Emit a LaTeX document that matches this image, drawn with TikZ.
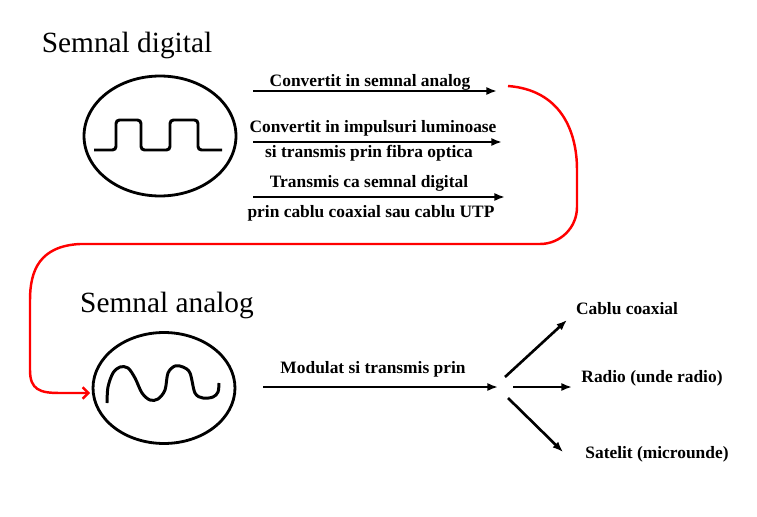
\documentclass[tikz,border=0pt]{standalone}
\usepackage{fontspec}
\setmainfont{Liberation Serif}
\usetikzlibrary{
    arrows,
    arrows.meta,
    positioning,
    shapes.geometric,
}

\begin{document}
\begin{tikzpicture}[
    x=0.02cm, y=-0.02cm,
    signal/.style={draw, ellipse, line width=1.6pt, inner sep=0pt},
    title/.style={font=\fontsize{16.7}{20}\selectfont},
    lbl/.style={font=\fontsize{9.9}{12}\selectfont\bfseries, align=center, inner sep=0pt},
    flow/.style={-{Latex[length=6pt,width=4.6pt]}, line width=1.5pt},
    wave/.style={line width=1.7pt, rounded corners=2pt},
    jump/.style={-{Straight Barb[length=3.2pt,width=6.5pt]}, red, line width=1.4pt}
]
\useasboundingbox (0,0) rectangle (757,517);

\node[title] (digitalTitle) at (127,45) {Semnal digital};
\node[signal, minimum width=3.04cm, minimum height=2.4cm] (digital) at (160,136) {};
\draw[wave] (94,150) -- (116,150) -- (116,120) -- (141,120) -- (141,150) -- (170,150)
    -- (170,120) -- (198,120) -- (198,150) -- (222,150);

\coordinate (a1s) at (253,91);  \coordinate (a1e) at (497,91);
\coordinate (a2s) at (253,142); \coordinate (a2e) at (502,142);
\coordinate (a3s) at (253,197); \coordinate (a3e) at (505,197);
\draw[flow] (a1s) -- (a1e);
\draw[flow] (a2s) -- (a2e);
\draw[flow] (a3s) -- (a3e);

\node[lbl] (analogText) at (370,82) {Convertit in semnal analog};
\node[lbl] (lightText) at (373,128) {Convertit in impulsuri luminoase};
\node[lbl] (fiberText) at (369,153) {si transmis prin fibra optica};
\node[lbl] (digitalText) at (369,183) {Transmis ca semnal digital};
\node[lbl] (cableText) at (371,213) {prin cablu coaxial sau cablu UTP};

\node[title] (analogTitle) at (167,305) {Semnal analog};
\node[signal, minimum width=2.84cm, minimum height=2.22cm] (analog) at (164,388) {};
\draw[line width=1.7pt] plot[smooth, tension=0.55] coordinates {
    (107,403) (108,387) (113,373) (120,367) (128,368) (135,378) (142,393) (150,400)
    (158,399) (165,390) (168,373) (175,366) (183,367) (190,373) (195,393) (203,398)
    (213,397) (218,392) (219,383)};

\coordinate (redStart) at (508,86);
\coordinate (redEnd) at (90,393);
\draw[jump] (redStart) .. controls (560,90) and (577,130) .. (577,170) -- (577,207)
    .. controls (577,228) and (560,244) .. (540,244) -- (80,244)
    .. controls (40,246) and (30,270) .. (30,300) -- (30,370)
    .. controls (30,390) and (40,393) .. (60,393) -- (redEnd);

\coordinate (m1s) at (263,387); \coordinate (m1e) at (498,387);
\draw[flow] (m1s) -- (m1e);
\node[lbl] (modText) at (373,369) {Modulat si transmis prin};

\node[lbl] (coax) at (627,309) {Cablu coaxial};
\node[lbl] (radio) at (652,378) {Radio (unde radio)};
\node[lbl] (sat) at (657,454) {Satelit (microunde)};
\coordinate (f1s) at (505,377); \coordinate (f1e) at (567,320);
\coordinate (f2s) at (513,387); \coordinate (f2e) at (572,387);
\coordinate (f3s) at (508,398); \coordinate (f3e) at (563,452);
\draw[flow] (f1s) -- (f1e);
\draw[flow] (f2s) -- (f2e);
\draw[flow] (f3s) -- (f3e);

\end{tikzpicture}
\end{document}
